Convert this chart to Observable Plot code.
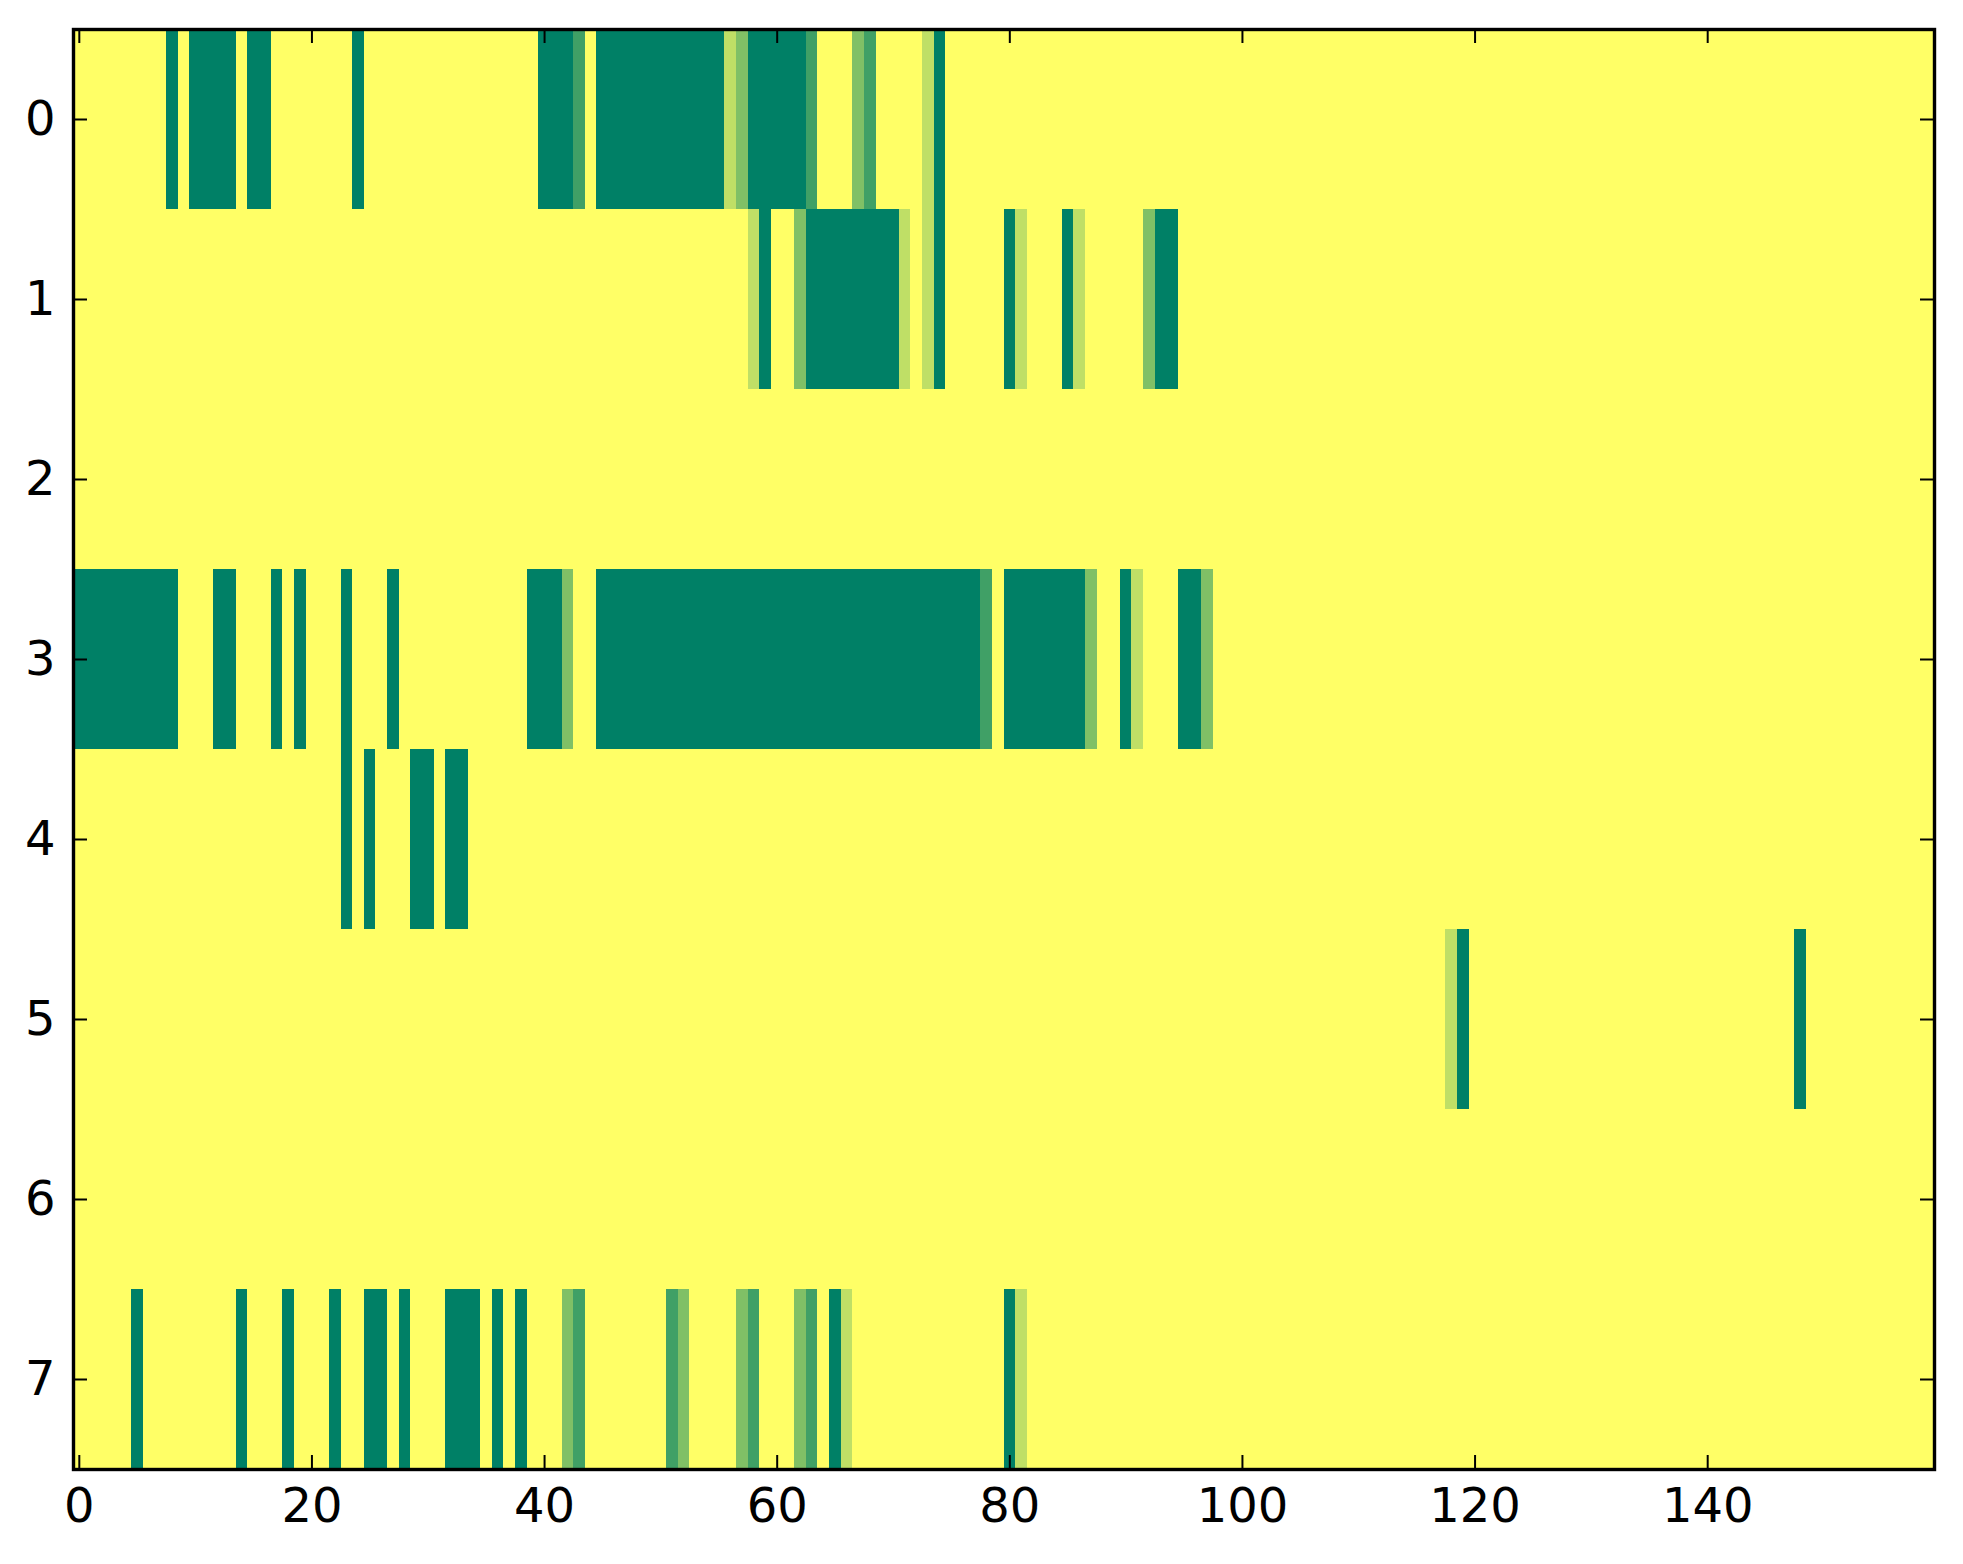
<!DOCTYPE html>
<html>
<head>
<meta charset="utf-8">
<script src="https://cdn.jsdelivr.net/npm/d3@7"></script>
<script src="https://cdn.jsdelivr.net/npm/@observablehq/plot@0.6"></script>
<style>
  html, body { margin: 0; padding: 0; background: #ffffff; }
  #chart svg { display: block; }
</style>
</head>
<body>
<div id="chart"></div>
<script>
// Image size: 8 rows x 160 columns; every cell not listed below has value 1 (yellow)
const nRows = 8;
const nCols = 160;
const backgroundValue = 1;
const xTicks = [0, 20, 40, 60, 80, 100, 120, 140];
const yTicks = [0, 1, 2, 3, 4, 5, 6, 7];

// [column, value] for the non-background cells of each row
const row0 = [[8,0],[10,0],[11,0],[12,0],[13,0],[15,0],[16,0],[24,0],[40,0],[41,0],[42,0],[43,0.25],
  [45,0],[46,0],[47,0],[48,0],[49,0],[50,0],[51,0],[52,0],[53,0],[54,0],[55,0],[56,0.75],[57,0.5],
  [58,0],[59,0],[60,0],[61,0],[62,0],[63,0.25],[67,0.5],[68,0.25],[73,0.75],[74,0]];
const row1 = [[58,0.75],[59,0],[62,0.5],[63,0],[64,0],[65,0],[66,0],[67,0],[68,0],[69,0],[70,0],
  [71,0.75],[73,0.75],[74,0],[80,0],[81,0.75],[85,0],[86,0.75],[92,0.5],[93,0],[94,0]];
const row2 = [];
const row3 = [[0,0],[1,0],[2,0],[3,0],[4,0],[5,0],[6,0],[7,0],[8,0],[12,0],[13,0],[17,0],[19,0],[23,0],[27,0],
  [39,0],[40,0],[41,0],[42,0.5],
  [45,0],[46,0],[47,0],[48,0],[49,0],[50,0],[51,0],[52,0],[53,0],[54,0],[55,0],[56,0],[57,0],[58,0],[59,0],
  [60,0],[61,0],[62,0],[63,0],[64,0],[65,0],[66,0],[67,0],[68,0],[69,0],[70,0],[71,0],[72,0],[73,0],[74,0],
  [75,0],[76,0],[77,0],[78,0.25],[80,0],[81,0],[82,0],[83,0],[84,0],[85,0],[86,0],[87,0.5],[90,0],[91,0.75],
  [95,0],[96,0],[97,0.5]];
const row4 = [[23,0],[25,0],[29,0],[30,0],[32,0],[33,0]];
const row5 = [[118,0.75],[119,0],[148,0]];
const row6 = [];
const row7 = [[5,0],[14,0],[18,0],[22,0],[25,0],[26,0],[28,0],[32,0],[33,0],[34,0],[36,0],[38,0],
  [42,0.5],[43,0.25],[51,0.25],[52,0.5],[57,0.5],[58,0.25],[62,0.5],[63,0.25],[65,0],[66,0.75],[80,0],[81,0.75]];

const rowsData = [row0, row1, row2, row3, row4, row5, row6, row7];

// Build the table of cells
const cells = [];
for (let r = 0; r < nRows; r++) {
  const lookup = new Map(rowsData[r]);
  for (let c = 0; c < nCols; c++) {
    cells.push({row: r, col: c, value: lookup.has(c) ? lookup.get(c) : backgroundValue});
  }
}

// matplotlib "summer" colormap (linear in RGB)
const summer = d3.interpolateRgb("rgb(0,128,102)", "rgb(255,255,102)");

const W = 1963, H = 1564;
const mL = 73, mR = 29, mT = 29, mB = 95;
const plotW = W - mL - mR, plotH = H - mT - mB;
const tickLen = 14;
const font = 48;

const chart = Plot.plot({
  width: W,
  height: H,
  marginLeft: mL,
  marginRight: mR,
  marginTop: mT,
  marginBottom: mB,
  style: {fontFamily: "DejaVu Sans", background: "#ffffff", color: "#000000"},
  x: {domain: [-0.5, nCols - 0.5]},
  y: {domain: [nRows - 0.5, -0.5]},
  color: {type: "linear", domain: [0, 1], interpolate: summer},
  marks: [
    Plot.rect(cells, {
      x1: d => d.col - 0.5, x2: d => d.col + 0.5,
      y1: d => d.row - 0.5, y2: d => d.row + 0.5,
      fill: "value",
      shapeRendering: "crispEdges"
    }),
    // inward ticks on all four sides
    Plot.ruleX(xTicks, {x: d => d, insetTop: plotH - tickLen, stroke: "black", strokeWidth: 2}),
    Plot.ruleX(xTicks, {x: d => d, insetBottom: plotH - tickLen, stroke: "black", strokeWidth: 2}),
    Plot.ruleY(yTicks, {y: d => d, insetRight: plotW - tickLen, stroke: "black", strokeWidth: 2}),
    Plot.ruleY(yTicks, {y: d => d, insetLeft: plotW - tickLen, stroke: "black", strokeWidth: 2}),
    Plot.axisX(xTicks, {anchor: "bottom", tickSize: 0, tickPadding: 18, fontSize: font, tickFormat: d => String(d), fill: "black"}),
    Plot.axisY(yTicks, {anchor: "left", tickSize: 0, tickPadding: 18, fontSize: font, tickFormat: d => String(d), fill: "black"}),
    Plot.frame({stroke: "black", strokeWidth: 3.4})
  ]
});

document.getElementById("chart").appendChild(chart);
</script>
</body>
</html>
